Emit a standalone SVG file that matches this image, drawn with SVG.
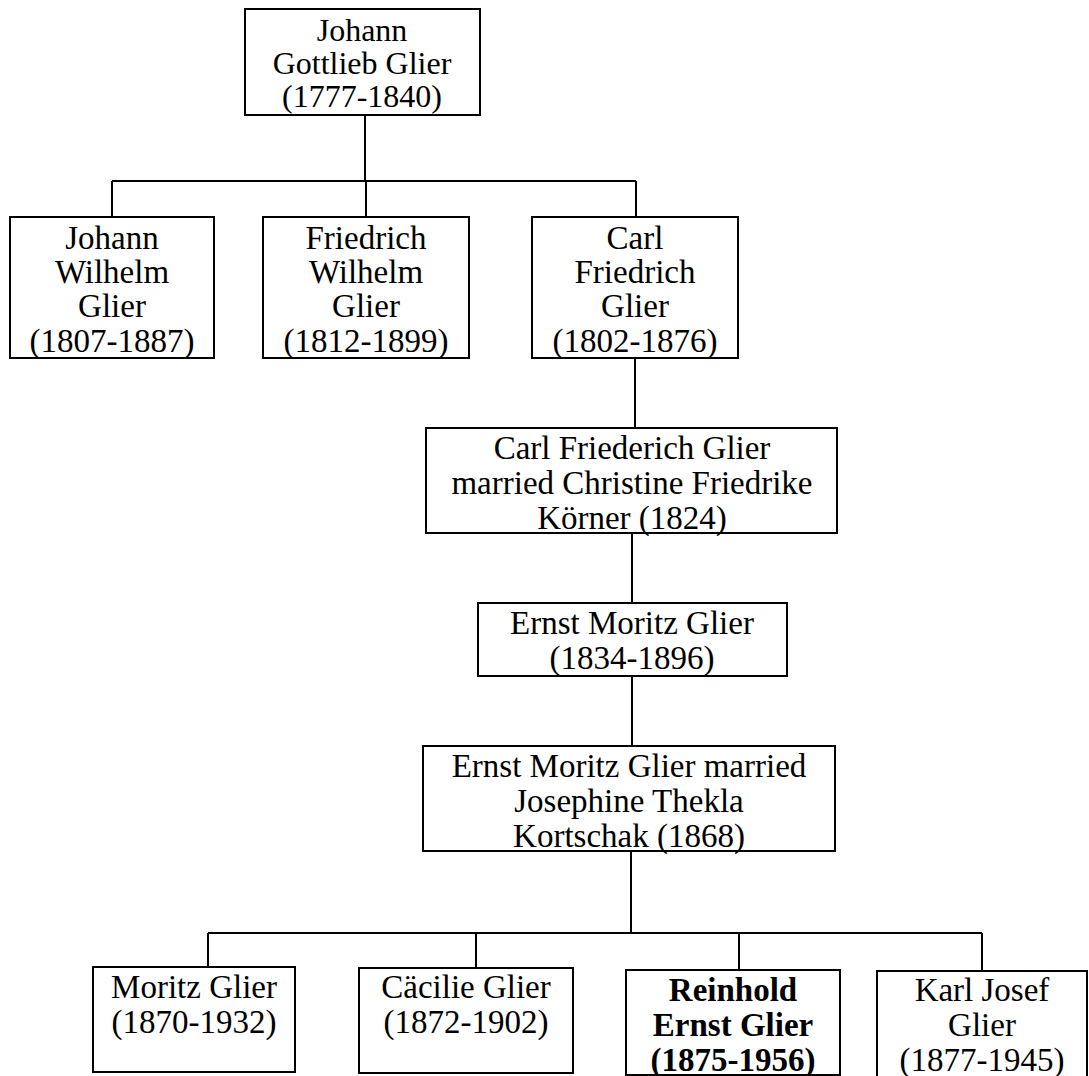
<svg xmlns="http://www.w3.org/2000/svg" width="1089" height="1076" viewBox="0 0 1089 1076">
<style>
.box{fill:#fff;stroke:#000;stroke-width:2}
.t{font-family:"Liberation Serif","Times New Roman",serif;font-size:33px;fill:#000;text-anchor:middle}
.s{font-size:32px}
.b{font-weight:bold}
.c{fill:none;stroke:#000;stroke-width:2}
</style>
<rect width="1089" height="1076" fill="#fff"/>
<g id="connectors">
<path class="c" d="M365,115 V181 M112,181 H636 M112,181 V217 M366,181 V217 M636,181 V217"/>
<path class="c" d="M635,358 V428 M632,533 V603 M632,676 V746 M631,851 V933"/>
<path class="c" d="M208,933 H982 M208,933 V967 M476,933 V968 M739,933 V970 M982,933 V971"/>
</g>
<g id="n-johann-gottlieb">
<rect class="box" x="245" y="9" width="235" height="106"/>
<text class="t s" x="362" y="41">Johann</text>
<text class="t s" x="362" y="74">Gottlieb Glier</text>
<text class="t s" x="362" y="107">(1777-1840)</text>
</g>
<g id="n-johann-wilhelm">
<rect class="box" x="10" y="217" width="204" height="141"/>
<text class="t" x="112" y="249">Johann</text>
<text class="t" x="112" y="283">Wilhelm</text>
<text class="t" x="112" y="317">Glier</text>
<text class="t" x="112" y="352">(1807-1887)</text>
</g>
<g id="n-friedrich-wilhelm">
<rect class="box" x="263" y="217" width="206" height="141"/>
<text class="t" x="366" y="249">Friedrich</text>
<text class="t" x="366" y="283">Wilhelm</text>
<text class="t" x="366" y="317">Glier</text>
<text class="t" x="366" y="352">(1812-1899)</text>
</g>
<g id="n-carl-friedrich">
<rect class="box" x="532" y="217" width="206" height="141"/>
<text class="t" x="635" y="249">Carl</text>
<text class="t" x="635" y="283">Friedrich</text>
<text class="t" x="635" y="317">Glier</text>
<text class="t" x="635" y="352">(1802-1876)</text>
</g>
<g id="n-carl-married">
<rect class="box" x="426" y="428" width="411" height="105"/>
<text class="t" x="632" y="459">Carl Friederich Glier</text>
<text class="t" x="632" y="494">married Christine Friedrike</text>
<text class="t" x="632" y="529">Körner (1824)</text>
</g>
<g id="n-ernst-moritz">
<rect class="box" x="478" y="603" width="309" height="73"/>
<text class="t" x="632" y="634">Ernst Moritz Glier</text>
<text class="t" x="632" y="669">(1834-1896)</text>
</g>
<g id="n-ernst-married">
<rect class="box" x="423" y="746" width="412" height="105"/>
<text class="t" x="629" y="777">Ernst Moritz Glier married</text>
<text class="t" x="629" y="812">Josephine Thekla</text>
<text class="t" x="629" y="847">Kortschak (1868)</text>
</g>
<g id="n-moritz">
<rect class="box" x="93" y="967" width="202" height="105"/>
<text class="t" x="194" y="998">Moritz Glier</text>
<text class="t" x="194" y="1033">(1870-1932)</text>
</g>
<g id="n-caecilie">
<rect class="box" x="359" y="968" width="214" height="105"/>
<text class="t" x="466" y="998">Cäcilie Glier</text>
<text class="t" x="466" y="1033">(1872-1902)</text>
</g>
<g id="n-reinhold">
<rect class="box" x="626" y="970" width="214" height="105"/>
<text class="t b" x="733" y="1001">Reinhold</text>
<text class="t b" x="733" y="1036">Ernst Glier</text>
<text class="t b" x="733" y="1071">(1875-1956)</text>
</g>
<g id="n-karl-josef">
<rect class="box" x="877" y="971" width="210" height="110"/>
<text class="t" x="982" y="1001">Karl Josef</text>
<text class="t" x="982" y="1036">Glier</text>
<text class="t" x="982" y="1071">(1877-1945)</text>
</g>
</svg>
